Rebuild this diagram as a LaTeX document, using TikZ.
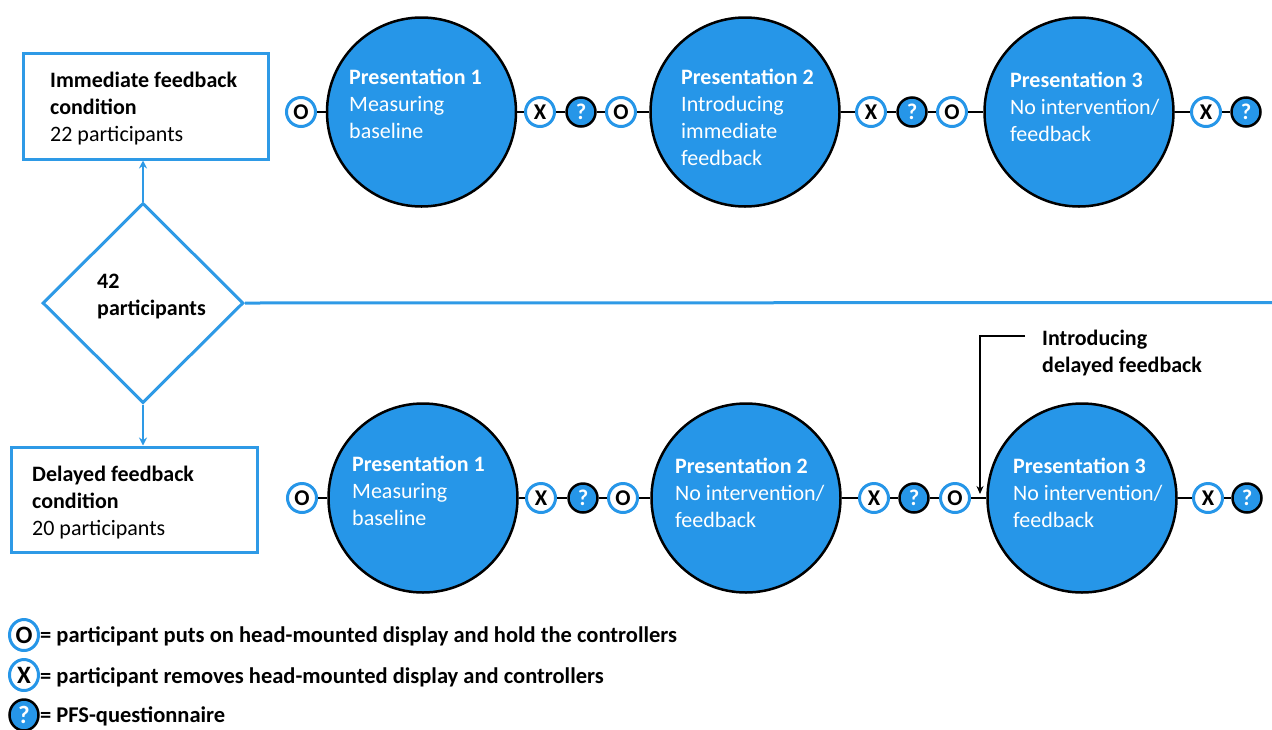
\documentclass[tikz,border=0pt]{standalone}
\usepackage{fontspec}
\setmainfont{Carlito}
\usetikzlibrary{shapes.geometric,arrows.meta,backgrounds}
\definecolor{vrblue}{RGB}{38,150,232}
\definecolor{boxblue}{RGB}{46,154,230}
\begin{document}
\begin{tikzpicture}[x=1pt,y=-1pt,
  pres/.style={circle, fill=vrblue, draw=black, line width=2.5pt, minimum size=189pt, inner sep=0pt},
  onmark/.style={circle, fill=white, draw=vrblue, line width=3pt, minimum size=29pt, inner sep=0pt, font=\fontsize{22.5}{24}\selectfont\bfseries},
  qmark/.style={circle, fill=vrblue, draw=black, line width=2.5pt, minimum size=29pt, inner sep=0pt, text=white, font=\fontsize{22.5}{24}\selectfont\bfseries},
  legmark/.style={ellipse, minimum width=29pt, minimum height=31pt, font=\fontsize{25}{28}\selectfont\bfseries},
  lnk/.style={draw=black, line width=2.2pt},
  ptxt/.style={anchor=north west, inner sep=0pt, align=left, text=white, font=\fontsize{22}{27}\selectfont},
  btxt/.style={anchor=north west, inner sep=0pt, align=left, text=black, font=\fontsize{22}{27}\selectfont},
  ltxt/.style={anchor=base west, inner sep=0pt, text=black, font=\fontsize{22.5}{26}\selectfont\bfseries},
  cbox/.style={rectangle, draw=boxblue, line width=3pt, fill=white, inner sep=0pt},
  blarrow/.style={draw=boxblue, line width=2.5pt, -{Stealth[length=8pt,width=8pt]}}
]
\useasboundingbox (0,0) rectangle (1272,729);

% left side
\node[cbox, minimum width=245pt, minimum height=106pt] (topbox) at (145.5,106) {};
\node[cbox, minimum width=246pt, minimum height=105pt] (botbox) at (134,499.5) {};
\node[diamond, draw=boxblue, line width=3pt, fill=white, minimum width=201pt, minimum height=200pt, inner sep=0pt] (dia) at (143,303) {};
\node[btxt] (toptxt) at (50,68.1) {\strut\textbf{Immediate feedback}\\\textbf{condition}\\22 participants};
\node[btxt] (bottxt) at (32,462.1) {\strut\textbf{Delayed feedback}\\\textbf{condition}\\20 participants};
\node[btxt] (diatxt) at (97,269.1) {\strut\textbf{42}\\\textbf{participants}};
\draw[blarrow] (dia.north) -- (dia.north |- topbox.south);
\draw[blarrow] (dia.south) -- (dia.south |- botbox.north);
\coordinate (rend) at (1272,302.5);
\draw[draw=boxblue, line width=3pt] (dia.east) -- (rend);

% top row
\node[onmark] (o1) at (301,112) {O};
\node[pres] (p1) at (421.5,112) {};
\node[onmark] (x1) at (540,112) {X};
\node[qmark] (q1) at (581,112) {?};
\node[onmark] (o2) at (621,112) {O};
\node[pres] (p2) at (745,112) {};
\node[onmark] (x2) at (871,112) {X};
\node[qmark] (q2) at (912,112) {?};
\node[onmark] (o3) at (952,112) {O};
\node[pres] (p3) at (1079,112) {};
\node[onmark] (x3) at (1206,112) {X};
\node[qmark] (q3) at (1246,112) {?};
\node[ptxt] (t1) at (349,65.1) {\strut\textbf{Presentation 1}\\Measuring\\baseline};
\node[ptxt] (t2) at (681,65.1) {\strut\textbf{Presentation 2}\\Introducing\\immediate\\feedback};
\node[ptxt] (t3) at (1010,68.1) {\strut\textbf{Presentation 3}\\No intervention/\\feedback};

% bottom row
\node[onmark] (bo1) at (302,498) {O};
\node[pres] (bp1) at (423,498) {};
\node[onmark] (bx1) at (541,498) {X};
\node[qmark] (bq1) at (583,498) {?};
\node[onmark] (bo2) at (623,498) {O};
\node[pres] (bp2) at (746,498) {};
\node[onmark] (bx2) at (874,498) {X};
\node[qmark] (bq2) at (914,498) {?};
\node[onmark] (bo3) at (955,498) {O};
\node[pres] (bp3) at (1082,498) {};
\node[onmark] (bx3) at (1208,498) {X};
\node[qmark] (bq3) at (1247,498) {?};
\node[ptxt] (bt1) at (352,452.1) {\strut\textbf{Presentation 1}\\Measuring\\baseline};
\node[ptxt] (bt2) at (675,454.1) {\strut\textbf{Presentation 2}\\No intervention/\\feedback};
\node[ptxt] (bt3) at (1013,454.1) {\strut\textbf{Presentation 3}\\No intervention/\\feedback};

\begin{scope}[on background layer]
\draw[lnk] (o1) -- (p1) -- (x1) -- (q1) -- (o2) -- (p2) -- (x2) -- (q2) -- (o3) -- (p3) -- (x3) -- (q3);
\draw[lnk] (bo1) -- (bp1) -- (bx1) -- (bq1) -- (bo2) -- (bp2) -- (bx2) -- (bq2) -- (bo3) -- (bp3) -- (bx3) -- (bq3);
\end{scope}

% introducing delayed feedback
\node[btxt] (intro) at (1042,326.1) {\strut\textbf{Introducing}\\\textbf{delayed feedback}};
\coordinate (ia) at (1025,336);
\coordinate (ib) at (980,494);
\draw[line width=2pt, -{Stealth[length=8pt,width=7pt]}] (ia) -| (ib);

% legend
\node[onmark, legmark] (lo) at (24,635) {O};
\node[onmark, legmark] (lx) at (24,675) {X};
\node[qmark, legmark] (lq) at (24,715) {?};
\node[ltxt] (lot) at (40,642) {= participant puts on head-mounted display and hold the controllers};
\node[ltxt] (lxt) at (40,683) {= participant removes head-mounted display and controllers};
\node[ltxt] (lqt) at (40,722) {= PFS-questionnaire};
\end{tikzpicture}
\end{document}
